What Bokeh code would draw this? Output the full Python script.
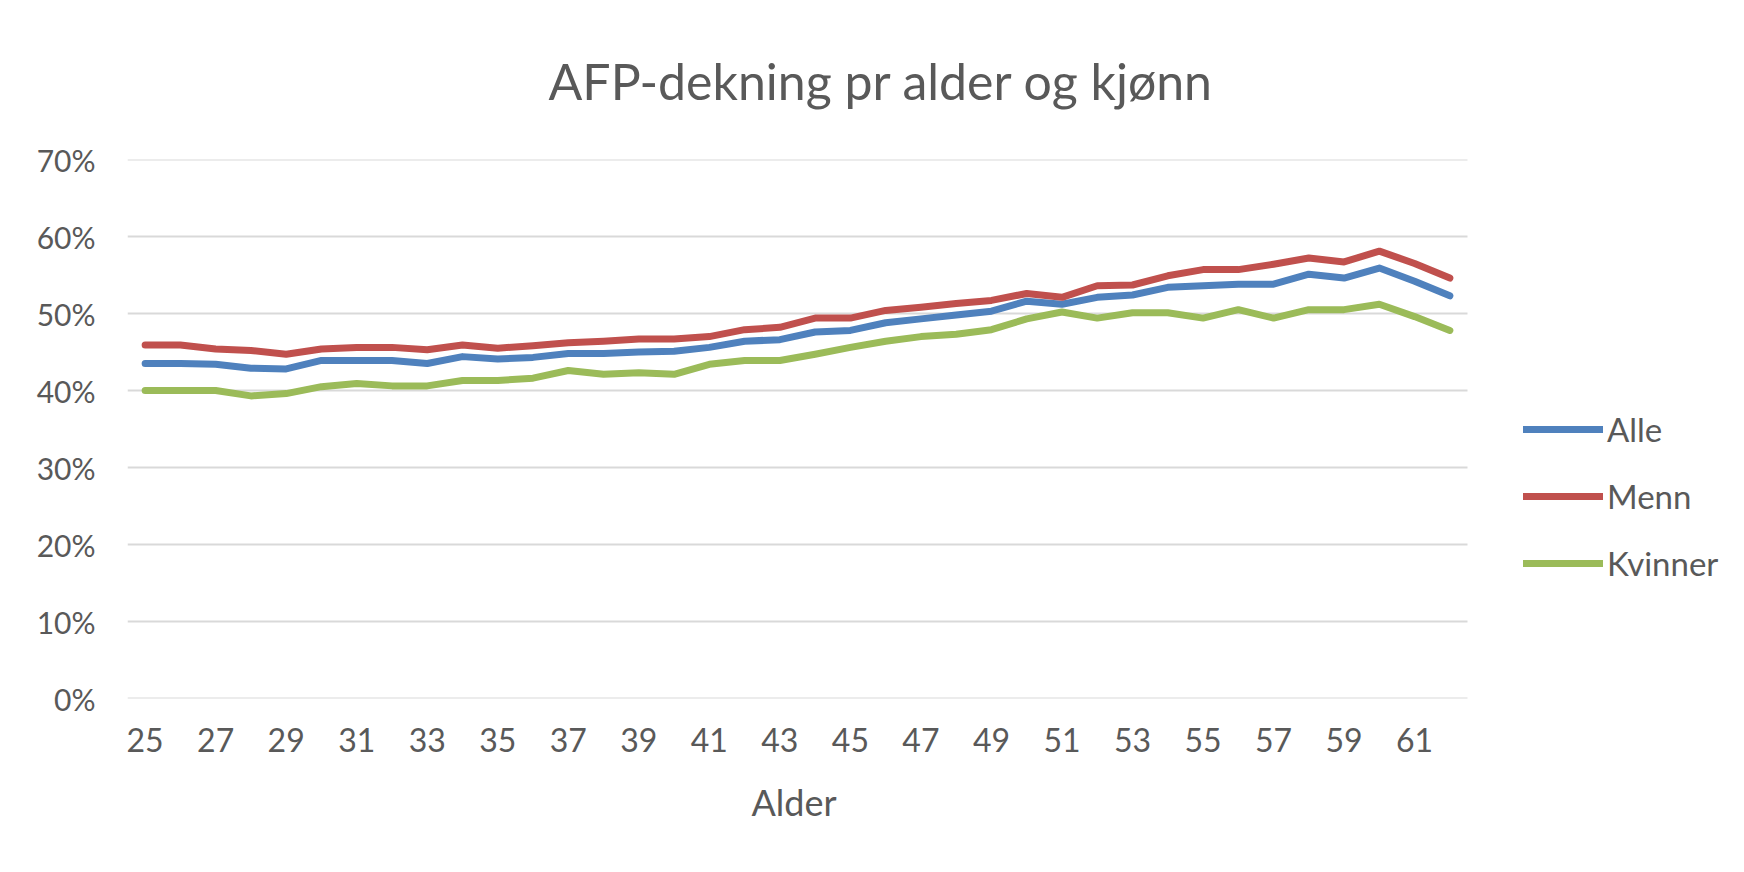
from bokeh.plotting import figure
from bokeh.models import Legend, LegendItem, PrintfTickFormatter, FixedTicker, Range1d, Title
from bokeh.embed import file_html
from bokeh.resources import INLINE

ages = list(range(25, 63))
alle = [43.5, 43.5, 43.4, 42.9, 42.8, 43.9, 43.9, 43.9, 43.5, 44.4, 44.1, 44.3, 44.8, 44.8,
        45.0, 45.1, 45.6, 46.4, 46.6, 47.6, 47.8, 48.8, 49.3, 49.8, 50.3, 51.6, 51.2, 52.1,
        52.4, 53.4, 53.6, 53.8, 53.8, 55.1, 54.6, 55.9, 54.2, 52.3]
menn = [45.9, 45.9, 45.4, 45.2, 44.7, 45.4, 45.6, 45.6, 45.3, 45.9, 45.5, 45.8, 46.2, 46.4,
        46.7, 46.7, 47.0, 47.9, 48.2, 49.4, 49.4, 50.4, 50.8, 51.3, 51.7, 52.6, 52.1, 53.6,
        53.7, 54.9, 55.7, 55.7, 56.4, 57.2, 56.7, 58.1, 56.5, 54.6]
kvinner = [40.0, 40.0, 40.0, 39.3, 39.6, 40.5, 40.9, 40.6, 40.6, 41.3, 41.3, 41.6, 42.6, 42.1,
           42.3, 42.1, 43.4, 43.9, 43.9, 44.7, 45.6, 46.4, 47.0, 47.3, 47.9, 49.3, 50.2, 49.4,
           50.1, 50.1, 49.4, 50.5, 49.4, 50.5, 50.5, 51.2, 49.6, 47.8]
series_names = ["Alle", "Menn", "Kvinner"]
series_colors = ["#4F81BD", "#C0504D", "#9BBB59"]
x_ticks = list(range(25, 62, 2))
y_ticks = [0, 10, 20, 30, 40, 50, 60, 70]
x_title = "Alder"

FONT = "Lato"
TXT = "#595959"

# category band edges for the plotted area
x_lo = ages[0] - 0.5
x_hi = ages[-1] + 0.5
plot_px = 1340.0
frame_px = 1744 - 127
x_end = x_lo + frame_px * (x_hi - x_lo) / plot_px

p = figure(width=1744, height=872, output_backend="svg", toolbar_location=None,
           x_range=Range1d(x_lo, x_end), y_range=Range1d(0, 70),
           min_border_left=127, min_border_right=0, min_border_top=158, min_border_bottom=174)
p.background_fill_color = "white"
p.border_fill_color = "white"
p.outline_line_color = None

p.title = Title(text="AFP-dekning pr alder og kjønn", align="left", offset=421,
                text_font=FONT, text_font_size="50px", text_color=TXT,
                text_font_style="normal", standoff=97)

p.xgrid.grid_line_color = None
p.ygrid.grid_line_color = None

# horizontal gridlines over the category area only
p.multi_line(xs=[[x_lo, x_hi] for _ in y_ticks], ys=[[t, t] for t in y_ticks],
             line_color="#D9D9D9", line_width=2)

p.yaxis.ticker = FixedTicker(ticks=y_ticks)
p.yaxis.formatter = PrintfTickFormatter(format="%d%%")
p.yaxis.axis_line_color = None
p.yaxis.major_tick_line_color = None
p.yaxis.minor_tick_line_color = None
p.yaxis.major_tick_out = 0
p.yaxis.major_label_standoff = 32
p.yaxis.major_label_text_font = FONT
p.yaxis.major_label_text_font_size = "30px"
p.yaxis.major_label_text_color = TXT

p.xaxis.ticker = FixedTicker(ticks=x_ticks)
p.xaxis.axis_line_color = None
p.xaxis.major_tick_line_color = None
p.xaxis.minor_tick_line_color = None
p.xaxis.major_tick_out = 0
p.xaxis.major_label_standoff = 29
p.xaxis.major_label_text_font = FONT
p.xaxis.major_label_text_font_size = "32px"
p.xaxis.major_label_text_color = TXT

# x-axis title, centred under the category area
p.add_layout(Title(text=x_title, align="left", offset=624,
                   text_font=FONT, text_font_size="36px", text_color=TXT,
                   text_font_style="normal", standoff=46), "below")

items = []
for name, vals, col in zip(series_names, [alle, menn, kvinner], series_colors):
    r = p.line(ages, vals, line_color=col, line_width=7, line_join="round", line_cap="round")
    items.append(LegendItem(label=name, renderers=[r]))

legend = Legend(items=items, location=(1396, 115), glyph_width=80, glyph_height=40,
                label_height=40, spacing=27, label_standoff=4, padding=0, margin=0,
                border_line_color=None, background_fill_alpha=0,
                label_text_font=FONT, label_text_font_size="33px", label_text_color=TXT)
p.add_layout(legend)

open("out.html", "w").write(file_html(p, INLINE))
